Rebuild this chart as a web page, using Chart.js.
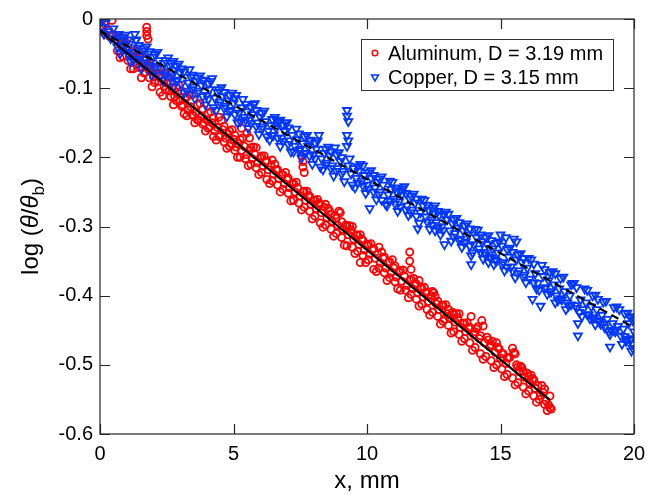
<!DOCTYPE html>
<html lang="en">
<head>
<meta charset="UTF-8">
<title>log(theta/theta_b) vs x</title>
<script src="https://cdn.jsdelivr.net/npm/chart.js"></script>
<style>
  html, body { margin: 0; padding: 0; background: #fff; }
  #wrap { width: 659px; height: 496px; position: relative; }
</style>
</head>
<body>
<div id="wrap"><canvas id="chart"></canvas></div>
<script>
// axis ticks
const xTicks = [0, 5, 10, 15, 20];
const yTicks = [0, -0.1, -0.2, -0.3, -0.4, -0.5, -0.6];

// Aluminum, D = 3.19 mm  (x in mm, log(theta/theta_b))
const aluminum = [
  [0.05,-0.004],[0.1,-0.012],[0.15,-0.020],[0.2,-0.008],[0.3,-0.016],[0.35,-0.025],[0.45,-0.002],
  [0.5,-0.022],[0.6,-0.030],[0.7,-0.026],[0.8,-0.038],[0.9,-0.033],[1.0,-0.045],[1.1,-0.052],
  [1.2,-0.047],[1.3,-0.058],[1.4,-0.054],[1.5,-0.062],[1.6,-0.070],[1.7,-0.066],
  [1.75,-0.012],[1.75,-0.018],[1.75,-0.024],[1.8,-0.029],
  [1.85,-0.075],[1.9,-0.068],[2.0,-0.084],[2.1,-0.079],[2.2,-0.090],[2.3,-0.086],[2.4,-0.097],
  [2.5,-0.093],[2.6,-0.104],[2.7,-0.099],[2.8,-0.112],[2.9,-0.106],[3.0,-0.118],[3.1,-0.124],
  [3.2,-0.115],[3.3,-0.132],[3.4,-0.127],[3.5,-0.140],[3.6,-0.135],[3.7,-0.146],[3.8,-0.141],
  [3.9,-0.150],[4.0,-0.146],[4.1,-0.156],[4.2,-0.150],[4.3,-0.162],[4.4,-0.157],[4.5,-0.168],
  [4.6,-0.160],[4.7,-0.172],[4.8,-0.166],[4.9,-0.180],[5.0,-0.174],[5.1,-0.185],
  [5.2,-0.150],[5.3,-0.158],[5.5,-0.165],[5.6,-0.172],
  [5.2,-0.180],[5.3,-0.190],[5.4,-0.184],[5.5,-0.196],[5.6,-0.190],[5.7,-0.202],[5.8,-0.196],
  [5.9,-0.208],[6.0,-0.201],[6.1,-0.213],[6.2,-0.206],[6.3,-0.218],[6.4,-0.212],[6.5,-0.224],
  [6.6,-0.218],[6.7,-0.231],[6.8,-0.225],[6.9,-0.238],[7.0,-0.232],[7.1,-0.244],[7.2,-0.238],
  [7.3,-0.250],[7.4,-0.244],[7.5,-0.256],
  [7.55,-0.198],[7.6,-0.206],[7.6,-0.214],[7.65,-0.222],
  [7.6,-0.250],[7.7,-0.262],[7.8,-0.256],[7.9,-0.268],[8.0,-0.262],[8.1,-0.274],[8.2,-0.266],
  [8.3,-0.280],[8.4,-0.272],[8.5,-0.287],[8.6,-0.278],[8.7,-0.292],[8.8,-0.284],[8.9,-0.298],
  [9.0,-0.280],[9.1,-0.304],[9.2,-0.298],[9.3,-0.312],[9.4,-0.305],[9.5,-0.318],[9.6,-0.312],
  [9.7,-0.326],[9.8,-0.318],[9.9,-0.334],[10.0,-0.328],[10.1,-0.340],[10.2,-0.333],[10.3,-0.346],
  [10.4,-0.340],[10.5,-0.353],[10.6,-0.346],[10.7,-0.360],[10.8,-0.352],[10.9,-0.367],[11.0,-0.360],
  [11.1,-0.373],[11.2,-0.366],[11.3,-0.379],[11.4,-0.372],[11.5,-0.385],
  [11.6,-0.337],[11.6,-0.350],[11.65,-0.362],
  [11.6,-0.378],[11.7,-0.390],[11.8,-0.383],[11.9,-0.396],[12.0,-0.389],[12.1,-0.402],[12.2,-0.395],
  [12.3,-0.408],[12.4,-0.400],[12.5,-0.396],[12.6,-0.412],[12.7,-0.420],[12.8,-0.414],[12.9,-0.434],
  [13.0,-0.426],[13.1,-0.432],[13.2,-0.424],[13.3,-0.438],[13.4,-0.432],[13.5,-0.446],[13.6,-0.440],
  [13.7,-0.452],[13.8,-0.446],[13.9,-0.430],[14.0,-0.456],[14.1,-0.448],[14.2,-0.462],[14.3,-0.436],
  [14.35,-0.444],[14.4,-0.468],[14.5,-0.460],[14.6,-0.474],[14.7,-0.466],[14.8,-0.482],[14.9,-0.475],
  [15.0,-0.490],[15.1,-0.484],[15.2,-0.498],[15.3,-0.490],[15.45,-0.476],[15.5,-0.482],[15.6,-0.500],
  [15.7,-0.510],[15.8,-0.504],[15.9,-0.518],[16.0,-0.512],[16.1,-0.526],[16.2,-0.520],[16.3,-0.534],
  [16.4,-0.530],[16.5,-0.544],[16.6,-0.540],[16.7,-0.552],[16.8,-0.558],[16.9,-0.564],
  [1.25,-0.072],[2.25,-0.106],[3.25,-0.140],[3.55,-0.150],[4.25,-0.170],[5.25,-0.200],[6.25,-0.232],
  [7.25,-0.262],[8.25,-0.295],[9.25,-0.328],[9.75,-0.352],[10.25,-0.362],[11.25,-0.392],[12.25,-0.420],
  [13.25,-0.452],[14.25,-0.484],[15.25,-0.514],[16.25,-0.545],
  [1.45,-0.047],[2.45,-0.079],[3.45,-0.110],[4.45,-0.142],[5.85,-0.186],[6.45,-0.204],[6.95,-0.222],
  [8.45,-0.268],[8.95,-0.278],[9.45,-0.300],[10.45,-0.330],[10.95,-0.348],[11.95,-0.378],[12.45,-0.394],
  [13.45,-0.426],[14.15,-0.445],[14.85,-0.468],[15.55,-0.484],[16.55,-0.530],
  [0.65,-0.030],[0.65,-0.046],[0.85,-0.036],[0.85,-0.054],[1.05,-0.041],[1.05,-0.060],[1.25,-0.048],
  [1.45,-0.070],[1.65,-0.060],[1.65,-0.078],[1.85,-0.067],[1.85,-0.085],[2.05,-0.073],[2.05,-0.092],
  [2.25,-0.080],[2.45,-0.102],[2.65,-0.092],[2.65,-0.112],[2.85,-0.099],[2.85,-0.118],[3.05,-0.104],
  [3.05,-0.126],[3.25,-0.112],[3.45,-0.138],[3.65,-0.124],[3.65,-0.146],[3.85,-0.130],[3.85,-0.152],
  [4.05,-0.136],[4.05,-0.158],[4.25,-0.143],[4.45,-0.170],[4.65,-0.155],[4.65,-0.178],[4.85,-0.162],
  [4.85,-0.184],[5.05,-0.168],[5.05,-0.190],[5.25,-0.174],[5.45,-0.202],[5.65,-0.186],[5.65,-0.210],
  [5.85,-0.215],[6.05,-0.198],[6.05,-0.222],[6.25,-0.205],[6.45,-0.234],[6.65,-0.218],[6.65,-0.240],
  [6.85,-0.225],[6.85,-0.246],[7.05,-0.230],[7.05,-0.252],[7.25,-0.238],[7.45,-0.266],[7.65,-0.249],
  [7.65,-0.272],[7.85,-0.256],[7.85,-0.278],[8.05,-0.262],[8.05,-0.285],[8.25,-0.268],[8.45,-0.298],
  [8.65,-0.282],[8.65,-0.304],[8.85,-0.288],[8.85,-0.310],[9.05,-0.293],[9.05,-0.316],[9.25,-0.300],
  [9.45,-0.330],[9.65,-0.313],[9.65,-0.336],[9.85,-0.320],[9.85,-0.342],[10.05,-0.326],[10.05,-0.348],
  [10.25,-0.332],[10.45,-0.360],[10.65,-0.344],[10.65,-0.367],[10.85,-0.351],[10.85,-0.374],
  [11.05,-0.357],[11.05,-0.380],[11.25,-0.364],[11.45,-0.392],[11.65,-0.376],[11.65,-0.398],
  [11.85,-0.383],[11.85,-0.405],[12.05,-0.389],[12.05,-0.412],[12.25,-0.395],[12.45,-0.424],
  [12.65,-0.408],[12.65,-0.430],[12.85,-0.414],[12.85,-0.437],[13.05,-0.420],[13.05,-0.443],
  [13.25,-0.427],[13.45,-0.456],[13.65,-0.440],[13.65,-0.462],[13.85,-0.446],[13.85,-0.468],
  [14.05,-0.452],[14.05,-0.475],[14.25,-0.458],[14.45,-0.488],[14.65,-0.471],[14.65,-0.494],
  [14.85,-0.500],[15.05,-0.484],[15.05,-0.506],[15.25,-0.490],[15.45,-0.519],[15.65,-0.503],
  [15.65,-0.526],[15.85,-0.509],[15.85,-0.532],[16.05,-0.516],[16.05,-0.538],[16.25,-0.522],
  [16.45,-0.550],[16.65,-0.535],[16.65,-0.557],[16.85,-0.545],[16.85,-0.562],
  [0.95,-0.033],[1.35,-0.046],[1.75,-0.058],[2.15,-0.071],[2.55,-0.084],[2.95,-0.096],[3.35,-0.109],
  [3.75,-0.122],[4.15,-0.134],[4.55,-0.147],[4.95,-0.160],[5.35,-0.172],[5.75,-0.185],[6.15,-0.198],
  [6.55,-0.210],[7.35,-0.236],[7.75,-0.249],[8.15,-0.261],[8.55,-0.274],[9.35,-0.299],[9.75,-0.312],
  [10.15,-0.325],[10.55,-0.337],[11.35,-0.363],[11.75,-0.375],[12.15,-0.388],[12.55,-0.401],
  [12.95,-0.413],[13.35,-0.426],[13.75,-0.439],[14.55,-0.464],[14.95,-0.477],[15.35,-0.489],
  [15.75,-0.502],[16.15,-0.515],
  [0.75,-0.056],[1.15,-0.072],[1.55,-0.085],[1.95,-0.098],[2.35,-0.111],[2.75,-0.124],[3.15,-0.137],
  [3.95,-0.162],[4.35,-0.175],[4.75,-0.187],[5.15,-0.200],[5.55,-0.212],[5.95,-0.225],[6.35,-0.238],
  [6.75,-0.250],[7.15,-0.263],[7.55,-0.276],[7.95,-0.289],[8.35,-0.301],[8.75,-0.314],[9.15,-0.327],
  [9.55,-0.339],[9.95,-0.352],[10.35,-0.365],[10.75,-0.378],[11.15,-0.390],[11.55,-0.403],
  [11.95,-0.415],[12.35,-0.428],[12.75,-0.441],[13.15,-0.454],[13.55,-0.466],[13.95,-0.479],
  [14.35,-0.492],[14.75,-0.504],[15.15,-0.517],[15.55,-0.529],[15.95,-0.542],[16.35,-0.554],
  [16.75,-0.566]
];

// Copper, D = 3.15 mm
const copper = [
  [0.05,-0.002],[0.1,-0.012],[0.15,-0.022],[0.2,-0.006],[0.3,-0.018],[0.4,-0.028],[0.5,-0.014],
  [0.6,-0.030],[0.7,-0.022],[0.8,-0.038],[0.9,-0.030],[1.0,-0.044],[1.1,-0.036],[1.2,-0.048],
  [1.3,-0.022],[1.35,-0.030],[1.4,-0.042],[1.5,-0.054],[1.6,-0.046],[1.7,-0.058],[1.8,-0.050],
  [1.9,-0.062],[2.0,-0.055],[2.1,-0.068],[2.2,-0.060],[2.3,-0.072],[2.4,-0.064],[2.5,-0.076],
  [2.6,-0.068],[2.7,-0.082],[2.8,-0.074],[2.9,-0.088],[3.0,-0.078],[3.15,-0.076],[3.3,-0.092],
  [3.4,-0.084],[3.5,-0.098],[3.6,-0.090],[3.7,-0.104],[3.8,-0.096],[3.9,-0.088],[4.0,-0.110],
  [4.1,-0.102],[4.2,-0.086],[4.3,-0.114],[4.4,-0.106],[4.5,-0.120],[4.6,-0.112],[4.7,-0.126],
  [4.8,-0.118],[4.9,-0.132],[5.0,-0.122],[5.1,-0.110],[5.2,-0.136],[5.3,-0.128],[5.4,-0.142],
  [5.5,-0.134],[5.6,-0.146],[5.7,-0.138],[5.8,-0.122],[5.9,-0.150],[6.0,-0.142],[6.1,-0.156],
  [6.2,-0.148],[6.3,-0.162],[6.4,-0.154],[6.5,-0.168],[6.6,-0.158],[6.7,-0.148],[6.8,-0.172],
  [6.9,-0.162],[7.0,-0.150],[7.1,-0.176],[7.2,-0.168],[7.3,-0.184],[7.4,-0.174],[7.5,-0.188],
  [7.6,-0.180],[7.7,-0.194],[7.8,-0.184],[7.9,-0.176],[8.0,-0.196],[8.1,-0.188],[8.2,-0.168],
  [8.3,-0.202],[8.4,-0.194],[8.5,-0.208],[8.6,-0.198],[8.7,-0.212],[8.8,-0.186],[8.9,-0.216],
  [9.0,-0.206],[9.1,-0.220],
  [9.25,-0.132],[9.25,-0.140],[9.3,-0.148],[9.25,-0.168],[9.3,-0.176],[9.25,-0.184],
  [9.3,-0.212],[9.4,-0.224],[9.5,-0.216],[9.6,-0.230],[9.7,-0.220],[9.8,-0.234],[9.9,-0.226],
  [10.0,-0.240],[10.1,-0.274],[10.15,-0.230],[10.3,-0.244],[10.4,-0.236],[10.5,-0.250],[10.6,-0.240],
  [10.7,-0.268],[10.8,-0.254],[10.9,-0.246],[11.0,-0.260],[11.1,-0.250],[11.2,-0.264],[11.3,-0.254],
  [11.4,-0.242],[11.5,-0.270],[11.6,-0.260],[11.7,-0.276],[11.8,-0.266],[11.9,-0.303],[12.0,-0.280],
  [12.1,-0.270],[12.2,-0.286],[12.3,-0.276],[12.4,-0.290],[12.5,-0.280],[12.6,-0.294],[12.7,-0.284],
  [12.8,-0.300],[12.9,-0.326],[13.0,-0.290],[13.1,-0.306],[13.2,-0.296],[13.3,-0.310],[13.4,-0.302],
  [13.5,-0.318],[13.6,-0.306],[13.7,-0.322],[13.8,-0.312],[13.9,-0.355],[13.9,-0.342],[14.0,-0.326],
  [14.1,-0.316],[14.2,-0.332],[14.3,-0.322],[14.4,-0.338],[14.5,-0.326],[14.6,-0.344],[14.7,-0.332],
  [14.8,-0.348],[14.9,-0.338],[15.0,-0.312],[15.2,-0.316],[15.5,-0.318],[15.6,-0.322],
  [15.1,-0.352],[15.3,-0.344],[15.4,-0.358],[15.6,-0.348],[15.7,-0.364],[15.8,-0.352],[15.9,-0.370],
  [16.0,-0.360],[16.1,-0.376],[16.2,-0.405],[16.3,-0.368],[16.4,-0.382],[16.5,-0.415],[16.6,-0.372],
  [16.7,-0.388],[16.8,-0.378],[16.9,-0.394],[17.0,-0.384],[17.1,-0.400],[17.2,-0.390],[17.3,-0.406],
  [17.4,-0.394],[17.5,-0.410],[17.6,-0.400],[17.7,-0.382],[17.8,-0.414],[17.9,-0.458],[17.9,-0.440],
  [18.0,-0.406],[18.1,-0.420],[18.2,-0.410],[18.3,-0.428],[18.4,-0.416],[18.5,-0.432],[18.6,-0.420],
  [18.7,-0.438],[18.8,-0.428],[18.9,-0.446],[19.0,-0.434],[19.1,-0.474],[19.1,-0.456],[19.2,-0.440],
  [19.3,-0.452],[19.4,-0.444],[19.5,-0.458],[19.6,-0.448],[19.7,-0.466],[19.8,-0.440],[19.9,-0.480],
  [19.9,-0.462],[20.0,-0.452],[20.0,-0.432],
  [1.25,-0.060],[2.25,-0.082],[3.25,-0.104],[4.25,-0.128],[5.25,-0.148],[6.25,-0.170],[7.25,-0.192],
  [8.25,-0.214],[9.45,-0.240],[10.55,-0.262],[11.55,-0.284],[12.55,-0.306],[13.55,-0.330],[14.55,-0.352],
  [15.55,-0.374],[16.45,-0.392],[17.05,-0.410],[17.45,-0.420],[18.05,-0.430],[18.55,-0.442],
  [19.05,-0.452],[19.55,-0.470],
  [1.75,-0.040],[2.75,-0.061],[3.75,-0.082],[5.75,-0.124],[6.75,-0.146],[7.75,-0.168],[9.85,-0.212],
  [10.85,-0.234],[12.05,-0.260],[13.05,-0.282],[14.05,-0.304],[16.05,-0.346],[17.05,-0.368],
  [18.25,-0.392],[18.95,-0.408],[19.45,-0.420],
  [0.65,-0.022],[0.65,-0.040],[0.85,-0.026],[0.85,-0.045],[1.05,-0.030],[1.05,-0.050],[1.45,-0.038],
  [1.45,-0.058],[1.65,-0.043],[1.65,-0.063],[1.85,-0.047],[1.85,-0.068],[2.05,-0.051],[2.05,-0.072],
  [2.45,-0.060],[2.45,-0.080],[2.65,-0.064],[2.65,-0.085],[2.85,-0.068],[2.85,-0.090],[3.05,-0.072],
  [3.05,-0.094],[3.45,-0.081],[3.45,-0.102],[3.65,-0.085],[3.65,-0.107],[3.85,-0.089],[3.85,-0.112],
  [4.05,-0.093],[4.05,-0.116],[4.45,-0.102],[4.45,-0.124],[4.65,-0.106],[4.65,-0.129],[4.85,-0.110],
  [4.85,-0.134],[5.05,-0.115],[5.05,-0.138],[5.45,-0.123],[5.45,-0.146],[5.65,-0.128],[5.65,-0.151],
  [5.85,-0.132],[5.85,-0.155],[6.05,-0.136],[6.05,-0.159],[6.45,-0.145],[6.45,-0.168],[6.65,-0.149],
  [6.65,-0.172],[6.85,-0.153],[6.85,-0.177],[7.05,-0.157],[7.05,-0.181],[7.45,-0.166],[7.45,-0.190],
  [7.65,-0.170],[7.65,-0.194],[7.85,-0.175],[7.85,-0.198],[8.05,-0.179],[8.05,-0.202],[8.45,-0.188],
  [8.45,-0.211],[8.65,-0.192],[8.65,-0.216],[8.85,-0.196],[8.85,-0.220],[9.05,-0.200],[9.05,-0.224],
  [9.65,-0.213],[9.65,-0.237],[9.85,-0.241],[10.05,-0.222],[10.05,-0.246],[10.25,-0.226],[10.25,-0.250],
  [10.45,-0.231],[10.45,-0.254],[10.85,-0.263],[11.05,-0.244],[11.05,-0.267],[11.25,-0.248],
  [11.25,-0.272],[11.45,-0.252],[11.45,-0.276],[11.65,-0.256],[11.65,-0.280],[11.85,-0.260],
  [11.85,-0.285],[12.25,-0.269],[12.25,-0.293],[12.45,-0.273],[12.45,-0.298],[12.65,-0.278],
  [12.65,-0.302],[12.85,-0.282],[12.85,-0.306],[13.25,-0.290],[13.25,-0.315],[13.45,-0.294],
  [13.45,-0.320],[13.65,-0.299],[13.65,-0.324],[13.85,-0.303],[13.85,-0.328],[14.25,-0.312],
  [14.25,-0.337],[14.45,-0.316],[14.45,-0.341],[14.65,-0.320],[14.65,-0.346],[14.85,-0.324],
  [14.85,-0.350],[15.05,-0.328],[15.05,-0.355],[15.25,-0.333],[15.25,-0.359],[15.45,-0.337],
  [15.45,-0.364],[15.65,-0.341],[15.65,-0.368],[15.85,-0.346],[15.85,-0.373],[16.25,-0.354],
  [16.25,-0.381],[16.65,-0.362],[16.65,-0.390],[16.85,-0.366],[16.85,-0.395],[17.25,-0.375],
  [17.25,-0.404],[17.65,-0.384],[17.65,-0.413],[17.85,-0.388],[17.85,-0.418],[18.25,-0.427],
  [18.45,-0.400],[18.45,-0.432],[18.65,-0.405],[18.65,-0.436],[18.85,-0.409],[18.85,-0.441],
  [19.25,-0.417],[19.25,-0.450],[19.65,-0.426],[19.65,-0.459],[19.85,-0.430],[19.85,-0.464],
  [19.95,-0.436],[19.95,-0.470],
  [0.95,-0.023],[1.35,-0.031],[2.15,-0.048],[2.55,-0.056],[2.95,-0.065],[3.35,-0.073],[4.15,-0.090],
  [4.55,-0.099],[4.95,-0.107],[5.35,-0.116],[6.15,-0.133],[6.55,-0.142],[6.95,-0.150],[7.35,-0.159],
  [8.15,-0.176],[8.55,-0.185],[8.95,-0.193],[9.35,-0.202],[9.75,-0.210],[10.15,-0.219],[10.55,-0.228],
  [10.95,-0.236],[11.35,-0.245],[11.75,-0.253],[12.15,-0.262],[12.55,-0.270],[12.95,-0.279],
  [13.35,-0.288],[13.75,-0.296],[14.15,-0.305],[14.55,-0.313],[14.95,-0.322],[15.35,-0.331],
  [15.75,-0.339],[16.15,-0.348],[16.55,-0.356],[16.95,-0.365],[17.35,-0.373],[17.75,-0.382],
  [18.15,-0.390],[18.55,-0.399],[19.35,-0.416],[19.75,-0.425],
  [0.75,-0.050],[1.15,-0.062],[1.55,-0.072],[1.95,-0.081],[2.35,-0.089],[2.75,-0.098],[3.15,-0.107],
  [3.55,-0.115],[3.95,-0.124],[4.35,-0.132],[4.75,-0.141],[5.15,-0.150],[5.55,-0.158],[5.95,-0.167],
  [6.35,-0.175],[6.75,-0.184],[7.15,-0.192],[7.55,-0.201],[7.95,-0.210],[8.35,-0.218],[8.75,-0.227],
  [9.15,-0.235],[9.55,-0.244],[9.95,-0.252],[10.35,-0.261],[10.75,-0.270],[11.15,-0.278],
  [11.95,-0.295],[12.35,-0.304],[12.75,-0.312],[13.15,-0.321],[13.95,-0.338],[14.35,-0.347],
  [14.75,-0.355],[15.15,-0.364],[15.95,-0.381],[16.35,-0.390],[16.75,-0.398],[17.15,-0.407],
  [17.55,-0.415],[17.95,-0.424],[18.35,-0.433],[18.75,-0.441],[19.15,-0.450],[19.75,-0.463],
  [19.95,-0.476]
];

// linear fits (end points)
const fitAluminum = [[0, -0.017], [16.85, -0.551]];
const fitCopper = [[0, -0.017], [20, -0.446]];

const RED = 'rgb(255,0,0)';
const BLUE = 'rgb(0,55,255)';
const toXY = arr => arr.map(p => ({ x: p[0], y: p[1] }));

const FONT = '"Liberation Sans", Arial, sans-serif';

// frame with inward ticks, axis titles and legend
const decor = {
  id: 'decor',
  afterDraw(chart) {
    const ctx = chart.ctx;
    const a = chart.chartArea;
    const xs = chart.scales.x, ys = chart.scales.y;
    ctx.save();
    ctx.strokeStyle = '#262626';
    ctx.lineWidth = 1.2;
    ctx.strokeRect(a.left, a.top, a.right - a.left, a.bottom - a.top);
    const tl = 10;
    ctx.beginPath();
    xTicks.forEach(v => {
      const px = Math.round(xs.getPixelForValue(v)) + 0.5;
      ctx.moveTo(px, a.bottom); ctx.lineTo(px, a.bottom - tl);
      ctx.moveTo(px, a.top); ctx.lineTo(px, a.top + tl);
    });
    yTicks.forEach(v => {
      const py = Math.round(ys.getPixelForValue(v)) + 0.5;
      ctx.moveTo(a.left, py); ctx.lineTo(a.left + tl, py);
      ctx.moveTo(a.right, py); ctx.lineTo(a.right - tl, py);
    });
    ctx.stroke();

    // x title
    ctx.fillStyle = '#000';
    ctx.font = '24px ' + FONT;
    ctx.textAlign = 'center';
    ctx.textBaseline = 'alphabetic';
    ctx.fillText('x, mm', (a.left + a.right) / 2, 488);

    // y title: log (θ/θ_b)
    const parts = [
      { t: 'log (', f: '24px ' + FONT, dy: 0 },
      { t: 'θ', f: 'italic 24px ' + FONT, dy: 0 },
      { t: '/', f: '24px ' + FONT, dy: 0 },
      { t: 'θ', f: 'italic 24px ' + FONT, dy: 0 },
      { t: 'b', f: '17px ' + FONT, dy: 6 },
      { t: ')', f: '24px ' + FONT, dy: 0 }
    ];
    let total = 0;
    parts.forEach(p => { ctx.font = p.f; p.w = ctx.measureText(p.t).width; total += p.w; });
    ctx.translate(38, (a.top + a.bottom) / 2);
    ctx.rotate(-Math.PI / 2);
    ctx.textAlign = 'left';
    let cx = -total / 2;
    parts.forEach(p => {
      ctx.font = p.f;
      ctx.fillText(p.t, cx, p.dy);
      cx += p.w;
    });
    ctx.setTransform(1, 0, 0, 1, 0, 0);

    // legend
    ctx.fillStyle = '#fff';
    ctx.fillRect(361, 39, 252, 51);
    ctx.strokeStyle = '#333';
    ctx.lineWidth = 1;
    ctx.strokeRect(361.5, 39.5, 252, 51);
    ctx.lineWidth = 1.5;
    ctx.strokeStyle = RED;
    ctx.beginPath(); ctx.arc(375, 53, 2.8, 0, Math.PI * 2); ctx.stroke();
    ctx.strokeStyle = BLUE;
    ctx.beginPath();
    ctx.moveTo(371.5, 75); ctx.lineTo(378.5, 75); ctx.lineTo(375, 81); ctx.closePath();
    ctx.stroke();
    ctx.fillStyle = '#000';
    ctx.font = '20px ' + FONT;
    ctx.textBaseline = 'middle';
    ctx.fillText('Aluminum, D = 3.19 mm', 388, 54);
    ctx.fillText('Copper, D = 3.15 mm', 388, 78);
    ctx.restore();
  }
};

new Chart(document.getElementById('chart'), {
  type: 'scatter',
  data: {
    datasets: [
      {
        label: 'fit Al', type: 'line', data: toXY(fitAluminum),
        borderColor: '#000', borderWidth: 2.2, pointRadius: 0, fill: false, order: 0
      },
      {
        label: 'fit Cu', type: 'line', data: toXY(fitCopper),
        borderColor: '#000', borderWidth: 2.2, borderDash: [8, 5], pointRadius: 0, fill: false, order: 0
      },
      {
        label: 'Copper, D = 3.15 mm', data: toXY(copper),
        pointStyle: 'triangle', rotation: 180, pointRadius: 4.6,
        borderColor: BLUE, backgroundColor: 'rgba(0,0,0,0)', borderWidth: 1.8, order: 1
      },
      {
        label: 'Aluminum, D = 3.19 mm', data: toXY(aluminum),
        pointStyle: 'circle', pointRadius: 3.6,
        borderColor: RED, backgroundColor: 'rgba(0,0,0,0)', borderWidth: 1.8, order: 2
      }
    ]
  },
  options: {
    responsive: true,
    maintainAspectRatio: false,
    animation: false,
    events: [],
    layout: { padding: { top: 16, right: 25, left: 0, bottom: 0 } },
    plugins: { legend: { display: false }, tooltip: { enabled: false } },
    scales: {
      x: {
        type: 'linear', min: 0, max: 20,
        afterBuildTicks: s => { s.ticks = xTicks.map(v => ({ value: v })); },
        afterFit: s => { s.height = 62; },
        grid: { display: false, drawTicks: false },
        border: { display: false },
        ticks: { color: '#000', font: { family: FONT, size: 20 }, padding: 8, maxRotation: 0 }
      },
      y: {
        type: 'linear', min: -0.6, max: 0,
        afterBuildTicks: s => { s.ticks = yTicks.map(v => ({ value: v })); },
        afterFit: s => { s.width = 100; },
        grid: { display: false, drawTicks: false },
        border: { display: false },
        ticks: {
          color: '#000', font: { family: FONT, size: 20 }, padding: 7,
          callback: v => (v === 0 ? '0' : v.toFixed(1))
        }
      }
    }
  },
  plugins: [decor]
});
</script>
</body>
</html>
